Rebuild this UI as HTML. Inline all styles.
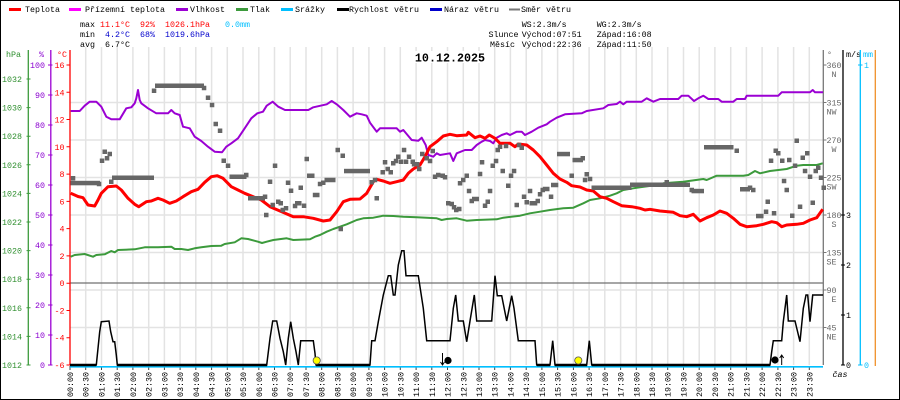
<!DOCTYPE html>
<html><head><meta charset="utf-8">
<style>
html,body{margin:0;padding:0;background:#fff;}
svg{display:block;}
text{font-family:"Liberation Mono",monospace;font-size:8.33px;}
</style></head><body>
<svg width="900" height="400" viewBox="0 0 900 400" xmlns="http://www.w3.org/2000/svg">
<rect x="0.5" y="0.5" width="899" height="399" fill="#fff" stroke="#000" stroke-width="1"/>

<!-- legend -->
<g>
<rect x="9" y="8" width="12" height="3" fill="#ff0000"/><text x="25" y="12">Teplota</text>
<rect x="69" y="8" width="12" height="3" fill="#ff00ff"/><text x="85" y="12">Přízemní teplota</text>
<rect x="176" y="8" width="12" height="3" fill="#9b00d3"/><text x="190" y="12">Vlhkost</text>
<rect x="236" y="8" width="12" height="3" fill="#3c9a3c"/><text x="250" y="12">Tlak</text>
<rect x="281" y="8" width="12" height="3" fill="#00bfff"/><text x="295" y="12">Srážky</text>
<rect x="337" y="8" width="12" height="3" fill="#000"/><text x="349" y="12">Rychlost větru</text>
<rect x="430" y="8" width="12" height="3" fill="#0000cc"/><text x="444" y="12">Náraz větru</text>
<rect x="509" y="8.5" width="11" height="2" fill="#777"/><text x="521" y="12">Směr větru</text>
</g>

<!-- stats -->
<g>
<text x="80" y="27">max</text><text x="100" y="27" fill="#ff0000">11.1°C</text><text x="140" y="27" fill="#ff0000">92%</text><text x="165" y="27" fill="#ff0000">1026.1hPa</text><text x="225" y="27" fill="#00bfff">0.0mm</text>
<text x="80" y="37">min</text><text x="105" y="37" fill="#0000cc">4.2°C</text><text x="140" y="37" fill="#0000cc">68%</text><text x="165" y="37" fill="#0000cc">1019.6hPa</text>
<text x="80" y="47">avg</text><text x="105" y="47">6.7°C</text>
<text x="521.7" y="27">WS:2.3m/s</text><text x="596.7" y="27">WG:2.3m/s</text>
<text x="488.5" y="37">Slunce</text><text x="521.7" y="37">Východ:07:51</text><text x="596.7" y="37">Západ:16:08</text>
<text x="490" y="47">Měsíc</text><text x="521.7" y="47">Východ:22:36</text><text x="596.7" y="47">Západ:11:50</text>
</g>

<!-- grid -->
<path d="M85.7 47V365M101.5 47V365M117.2 47V365M132.9 47V365M148.7 47V365M164.4 47V365M180.1 47V365M195.8 47V365M211.6 47V365M227.3 47V365M243 47V365M258.8 47V365M274.5 47V365M290.2 47V365M306 47V365M321.7 47V365M337.4 47V365M353.1 47V365M368.9 47V365M384.6 47V365M400.3 47V365M416.1 47V365M431.8 47V365M447.5 47V365M463.3 47V365M479 47V365M494.7 47V365M510.4 47V365M526.2 47V365M541.9 47V365M557.6 47V365M573.4 47V365M589.1 47V365M604.8 47V365M620.6 47V365M636.3 47V365M652 47V365M667.7 47V365M683.5 47V365M699.2 47V365M714.9 47V365M730.7 47V365M746.4 47V365M762.1 47V365M777.9 47V365M793.6 47V365M809.3 47V365" stroke="#e3e3e3" stroke-width="1.5" fill="none"/>
<path d="M70 102.5H823M70 140H823M70 177.5H823M70 215H823M70 252.5H823M70 290H823M70 327.5H823" stroke="#e3e3e3" stroke-width="1.5" fill="none"/>
<line x1="70" y1="283" x2="823" y2="283" stroke="#707070" stroke-width="1.3"/>

<rect x="413" y="51" width="74" height="12" fill="#fff"/>
<text x="450" y="61.5" text-anchor="middle" font-weight="bold" style="font-size:11.7px">10.12.2025</text>

<!-- bottom ticks -->
<path d="M70 366V370M85.7 366V370M101.5 366V370M117.2 366V370M132.9 366V370M148.7 366V370M164.4 366V370M180.1 366V370M195.8 366V370M211.6 366V370M227.3 366V370M243 366V370M258.8 366V370M274.5 366V370M290.2 366V370M306 366V370M321.7 366V370M337.4 366V370M353.1 366V370M368.9 366V370M384.6 366V370M400.3 366V370M416.1 366V370M431.8 366V370M447.5 366V370M463.3 366V370M479 366V370M494.7 366V370M510.4 366V370M526.2 366V370M541.9 366V370M557.6 366V370M573.4 366V370M589.1 366V370M604.8 366V370M620.6 366V370M636.3 366V370M652 366V370M667.7 366V370M683.5 366V370M699.2 366V370M714.9 366V370M730.7 366V370M746.4 366V370M762.1 366V370M777.9 366V370M793.6 366V370M809.3 366V370" stroke="#444" stroke-width="1" fill="none"/>

<!-- left axes -->
<g>
<text x="6" y="57" fill="#2f8f2f">hPa</text>
<text x="39" y="57" fill="#8a00d0">%</text>
<text x="57" y="57" fill="#ff0000">°C</text>
<line x1="28.3" y1="50" x2="28.3" y2="365" stroke="#3c9a3c" stroke-width="1.3"/>
<path d="M26.5 79H30.5M26.5 107.6H30.5M26.5 136.2H30.5M26.5 164.8H30.5M26.5 193.4H30.5M26.5 222H30.5M26.5 250.6H30.5M26.5 279.2H30.5M26.5 307.8H30.5M26.5 336.4H30.5M26.5 365H30.5" stroke="#3c9a3c" stroke-width="1"/>
<g fill="#2f8f2f" text-anchor="end">
<text x="22" y="82">1032</text><text x="22" y="110.6">1030</text><text x="22" y="139.2">1028</text><text x="22" y="167.8">1026</text><text x="22" y="196.4">1024</text><text x="22" y="225">1022</text><text x="22" y="253.6">1020</text><text x="22" y="282.2">1018</text><text x="22" y="310.8">1016</text><text x="22" y="339.4">1014</text><text x="22" y="368">1012</text>
</g>
<line x1="50.8" y1="50" x2="50.8" y2="365" stroke="#9b00d3" stroke-width="1.3"/>
<path d="M48 65H52.5M48 95H52.5M48 125H52.5M48 155H52.5M48 185H52.5M48 215H52.5M48 245H52.5M48 275H52.5M48 305H52.5M48 335H52.5M48 365H52.5" stroke="#9b00d3" stroke-width="1"/>
<g fill="#8a00d0" text-anchor="end">
<text x="45" y="68">100</text><text x="45" y="98">90</text><text x="45" y="128">80</text><text x="45" y="158">70</text><text x="45" y="188">60</text><text x="45" y="218">50</text><text x="45" y="248">40</text><text x="45" y="278">30</text><text x="45" y="308">20</text><text x="45" y="338">10</text><text x="45" y="368">0</text>
</g>
<line x1="70" y1="50" x2="70" y2="365" stroke="#ff0000" stroke-width="1.3"/>
<path d="M66.5 65H70M66.5 92.3H70M66.5 119.5H70M66.5 146.8H70M66.5 174.1H70M66.5 201.4H70M66.5 228.6H70M66.5 255.9H70M66.5 283.2H70M66.5 310.5H70M66.5 337.7H70M66.5 365H70" stroke="#ff0000" stroke-width="1"/>
<g fill="#ff0000" text-anchor="end">
<text x="64.5" y="68">16</text><text x="64.5" y="95.3">14</text><text x="64.5" y="122.5">12</text><text x="64.5" y="149.8">10</text><text x="64.5" y="177.1">8</text><text x="64.5" y="204.4">6</text><text x="64.5" y="231.6">4</text><text x="64.5" y="258.9">2</text><text x="64.5" y="286.2">0</text><text x="64.5" y="313.5">-2</text><text x="64.5" y="340.7">-4</text><text x="64.5" y="368">-6</text>
</g>
</g>

<!-- right axes -->
<g>
<line x1="823.3" y1="50" x2="823.3" y2="365" stroke="#777" stroke-width="1.3"/>
<path d="M823 65H826.5M823 102.5H826.5M823 140H826.5M823 177.5H826.5M823 215H826.5M823 252.5H826.5M823 290H826.5M823 327.5H826.5" stroke="#777" stroke-width="1"/>
<g fill="#666">
<text x="827" y="57">°</text>
<text x="826.5" y="68">360</text><text x="831.5" y="77">N</text>
<text x="826.5" y="105.5">315</text><text x="826.5" y="114.5">NW</text>
<text x="826.5" y="143">270</text><text x="831.5" y="152">W</text>
<text x="826.5" y="180.5">225</text><text x="826.5" y="189.5">SW</text>
<text x="826.5" y="218">180</text><text x="831.5" y="227">S</text>
<text x="826.5" y="255.5">135</text><text x="826.5" y="264.5">SE</text>
<text x="826.5" y="293">90</text><text x="831.5" y="302">E</text>
<text x="826.5" y="330.5">45</text><text x="826.5" y="339.5">NE</text>
</g>
<line x1="843" y1="50" x2="843" y2="365" stroke="#000" stroke-width="1.3"/>
<path d="M841 215H845M841 265H845M841 315H845M841 365H845" stroke="#000" stroke-width="1"/>
<text x="846" y="57">m/s</text>
<text x="846" y="218">3</text><text x="846" y="268">2</text><text x="846" y="318">1</text><text x="846" y="368">0</text>
<line x1="860.3" y1="50" x2="860.3" y2="365" stroke="#00bfff" stroke-width="1.3"/>
<path d="M858 65H862.5M858 365H862.5" stroke="#00bfff" stroke-width="1"/>
<text x="863" y="57" fill="#00bfff">mm</text>
<text x="864" y="68" fill="#00bfff">1</text><text x="864" y="368" fill="#00bfff">0</text>
<line x1="875.3" y1="50" x2="875.3" y2="366" stroke="#f0902a" stroke-width="1.3"/>
<text x="832.5" y="377" font-style="italic">čas</text>
</g>

<!-- pressure -->
<polyline fill="none" stroke="#3c9a3c" stroke-width="2" stroke-linejoin="round" points="70.7,256.7 74.7,255 84.7,254 93,256.7 96.3,255 104.7,254.3 111.3,251 114.7,252.3 118,250 134.7,249.3 144.7,247.3 158,247.3 171.3,246.7 174.7,249 181.3,249 188,250 194.7,248.3 201.3,247.3 211.3,246 221.3,245.7 224.7,244 234.7,242.3 241.3,238.3 248,239 258,241.7 262,243 266.7,241.7 273.3,240 286.7,238.3 293.3,240 310,239.3 315,236.7 320,235 326.7,231.7 333.3,229 340,226.7 346.7,224.3 356.7,220 363.3,218.3 373.3,217.7 383.3,215.7 393.3,216 403.3,216.7 416.7,217.3 426.7,217.7 436.7,218.3 441.7,220 446.7,219 456.7,218.3 466.7,220.7 476.7,220 496.7,219.3 503.3,217.7 520,215.7 530,213.3 540,211.7 550,210 563.3,208.3 573.3,207.7 583.3,203.3 590,200 600,198.3 610,195.7 616.7,193.3 623.3,190 633.3,188.3 640,187.3 656.7,185 663.3,183.3 683.3,181.7 703.3,179 706.7,180 716.7,175.7 743.3,175.7 748.3,175 755,171 760,173.3 770,171 786.7,169 796.7,165.7 803.3,165 816.7,165 822.7,163.3"/>

<!-- humidity -->
<polyline fill="none" stroke="#9b00d3" stroke-width="2" stroke-linejoin="round" points="70.7,111 79.7,111 84.7,105.7 89.7,101.7 96.3,101.7 101.3,106.7 106.3,116.7 111.3,119.3 119.7,119.3 126.3,108.3 131.3,107.3 134.7,103.3 136.3,98.3 138,90 139.7,100 141.3,103.3 148,108.3 156.3,113.3 168,113.3 171.3,110 174.7,113.3 179.7,115 183,126.7 189.7,128.3 194.7,136.7 201.3,141 208,146.7 214.7,151.7 222,152.3 226.3,146.7 231.3,143.3 238,138.3 244.7,128.3 251.3,118.3 257.3,113.3 263,111.7 266.7,105.7 272.7,101.7 278.3,106.7 285,110 308.3,110 313.3,107.3 326.7,104.3 331.7,101 336.7,104.3 343.3,110 350,116.7 356.7,113.3 361.7,114.3 366.7,115.7 370,122.7 376.7,131.7 380,128.3 396.7,128.3 400,131.7 403.3,130 411.7,140 418.3,140.7 421.7,137.7 425.7,145 428.3,155 433.3,156.7 436.7,153.3 440,155 450,153.3 453.3,161 456.7,153.3 465,150 471.7,150 476.7,145 481.7,141.7 485,140 490,141 493.3,143.3 496.7,137.7 501.7,135 506.7,133.3 510,135 516.7,131.7 521.7,131.7 525,135 531.7,131.7 538.3,127.7 546.7,124.3 550,121.7 556.7,117.7 565,114.3 581.7,113.3 586.7,111 603.3,108.3 608.3,105 616.7,104 620,101.7 623.3,104.3 626.7,101.7 641.7,101.7 646.7,98.3 653.3,101.7 660,99 678.3,99 681.7,95.7 688.3,95.7 694,101 698.3,98.3 703.3,95.7 708.3,99 718.3,99 721.7,101.7 733.3,101.7 736.7,99 745,99 746.7,95.7 778.3,95.7 781.7,92.3 810,92.3 812.7,90 815,92.3 823,92.3"/>

<!-- temperature -->
<polyline fill="none" stroke="#ff0000" stroke-width="3" stroke-linejoin="round" points="70.7,193.3 74.7,195 78,196.5 83,197.7 88,205 94.7,206 98,200 101.3,193.3 108,186.7 116.3,186 121.3,190 128,198.3 134.7,204.3 138.7,206.7 146.3,201.7 151.3,201 158,198.3 163,200 169.7,203.3 176.3,201 183,196.7 191.3,191.7 198,189.3 204.7,182.3 211.3,176.7 217.3,175.7 223,178.3 231.3,186.7 238,190 244.7,193.3 253,196.7 261.3,200 270,206.7 280,211 293.3,216.7 303.3,216.7 313.3,218.3 323.3,221 330,220 336.7,211.7 343.3,201.7 350,199.3 360,199 366.7,193.3 373.3,181.7 376.7,179.3 383.3,181 390,183.3 396.7,181.7 403.3,180 408.3,173.3 413.3,169 420,165 425,156.7 430,146.7 436.7,141.7 443.3,136 450,134.3 456.7,135.7 466.7,135 468.3,132.3 475,137.7 480,136 485,138.3 489.3,135 495,138.3 500,143.3 510,143.3 515,146.7 518.3,144 526.7,145 533.3,150 540,156.7 546.7,165 553.3,173.3 560,179 566.7,182.3 571.7,185.7 580,187 586.7,190 593.3,191 600,196.7 606.7,198.3 613.3,201.7 621.7,205.7 631.7,206.7 640,208.3 645,210 650,209.3 660,211 673.3,212.3 680,215.7 686.7,216.7 693.3,214.3 700,221 706.7,217.7 713.3,215 720,211 726.7,213.3 733.3,218.3 740,224.3 746.7,226.7 756.7,225.7 763.3,224.3 771.7,221.7 776.7,222.7 781.7,226.7 786.7,225 796.7,224.3 803.3,223.3 810,220 816.7,217.7 822.7,209.3"/>

<!-- rain -->
<line x1="70" y1="366.8" x2="823" y2="366.8" stroke="#00bfff" stroke-width="1.6"/>

<!-- wind speed -->
<polyline fill="none" stroke="#000" stroke-width="1.5" points="70,365 96.3,365 99.7,331.7 101.3,321.7 109,321 110.7,331.7 113,341.7 114.7,341.7 116.3,355 117.3,365 266.7,365 270,338.3 272.7,321 276.7,321 280,338.3 283.3,351.7 285.7,365 288.3,338.3 290.7,321.7 293.3,338.3 296,351.7 298.3,365 300.7,340.7 313.3,340.7 315,353.3 316,365 370,365 371.7,340.7 375,340.7 378.3,321.7 383.3,295 388.3,275.7 390.7,275.7 393.3,295 395,295 398.3,265 401.7,250.7 404,250.7 406,275.7 418.3,275.7 423.3,308.3 426.7,340.7 450,340.7 453.3,308.3 455.7,295 458.3,321 463.3,321 466.7,341.7 470,321 474.3,295 476.7,321 491.7,321 495,275.7 497.3,295.7 501.7,295.7 506.7,321 511.7,295.7 514,308.3 518.3,340.7 535,340.7 536.7,365 550,365 552.7,340.7 555,365 586.7,365 589.3,340.7 591.7,365 770,365 771.7,351.7 773.3,340.7 781.7,340.7 783.3,321.7 786.7,295 788.3,321 795,321 800,341.7 803.3,308.3 806,295 807.7,295 810,321.7 812.7,295 823,295"/>
<path d="M70 365H96M117 365H267M316 365H370M537 365H550M555 365H587M592 365H770" stroke="#000" stroke-width="2.5"/>

<!-- wind direction -->
<g fill="#666">
<rect x="70.5" y="180.8" width="29.5" height="4.5"/>
<rect x="112" y="175.5" width="42" height="4.5"/>
<rect x="155" y="83.5" width="49" height="4.5"/>
<rect x="229.5" y="174.5" width="17" height="4.5"/>
<rect x="248" y="196" width="17" height="4.5"/>
<rect x="344" y="168.8" width="26" height="4.5"/>
<rect x="557" y="151.8" width="13" height="4.5"/>
<rect x="572.5" y="157.8" width="10.5" height="4.5"/>
<rect x="591.5" y="185.5" width="40" height="4.5"/>
<rect x="630" y="182.5" width="60" height="4.5"/>
<rect x="691.5" y="188.8" width="12.5" height="4.5"/>
<rect x="704" y="145" width="29.5" height="4.5"/>
<rect x="740" y="187" width="10" height="4.5"/>
<rect x="756" y="213.8" width="7.5" height="4.5"/>
<path d="M70.8 176h4.5v4.5h-4.5zM96.8 181.8h4.5v4.5h-4.5zM99.8 158.5h4.5v4.5h-4.5zM102.5 149.5h4.5v4.5h-4.5zM104.8 156h4.5v4.5h-4.5zM107.5 151.8h4.5v4.5h-4.5zM109 179.5h4.5v4.5h-4.5zM151.8 88.5h4.5v4.5h-4.5zM201.8 85.8h4.5v4.5h-4.5zM205.8 95.5h4.5v4.5h-4.5zM209.8 102.8h4.5v4.5h-4.5zM213.5 121.8h4.5v4.5h-4.5zM217.8 128.5h4.5v4.5h-4.5zM221.5 158.5h4.5v4.5h-4.5zM225.8 163.5h4.5v4.5h-4.5zM244 172.8h4.5v4.5h-4.5zM264 212.8h4.5v4.5h-4.5zM262.8 194.5h4.5v4.5h-4.5zM267.8 179.5h4.5v4.5h-4.5zM270.5 202.8h4.5v4.5h-4.5zM272.8 163.5h4.5v4.5h-4.5zM276 199.5h4.5v4.5h-4.5zM278.5 201h4.5v4.5h-4.5zM280.5 207.8h4.5v4.5h-4.5zM283.8 206h4.5v4.5h-4.5zM285.8 180.5h4.5v4.5h-4.5zM288.8 188.5h4.5v4.5h-4.5zM292.8 203.8h4.5v4.5h-4.5zM295 201h4.5v4.5h-4.5zM297 201h4.5v4.5h-4.5zM298.5 185.5h4.5v4.5h-4.5zM301.8 203.5h4.5v4.5h-4.5zM304.5 156.8h4.5v4.5h-4.5zM307 173.5h4.5v4.5h-4.5zM310 173.5h4.5v4.5h-4.5zM312.8 192.8h4.5v4.5h-4.5zM315 192.8h4.5v4.5h-4.5zM317.8 181.8h4.5v4.5h-4.5zM321 180.5h4.5v4.5h-4.5zM324.5 177.8h4.5v4.5h-4.5zM327.8 177.8h4.5v4.5h-4.5zM331 177.8h4.5v4.5h-4.5zM335.5 147.8h4.5v4.5h-4.5zM340.5 153.5h4.5v4.5h-4.5zM338.5 226.8h4.5v4.5h-4.5zM369.5 180h4.5v4.5h-4.5zM374.5 196h4.5v4.5h-4.5zM372.8 177.8h4.5v4.5h-4.5zM380.5 170h4.5v4.5h-4.5zM382.8 160h4.5v4.5h-4.5zM385.5 166.8h4.5v4.5h-4.5zM388.5 170h4.5v4.5h-4.5zM391 161h4.5v4.5h-4.5zM393.8 158.8h4.5v4.5h-4.5zM396 154.5h4.5v4.5h-4.5zM398.8 159.5h4.5v4.5h-4.5zM401.8 147.8h4.5v4.5h-4.5zM403.8 159.5h4.5v4.5h-4.5zM406.8 154.5h4.5v4.5h-4.5zM410.5 159.5h4.5v4.5h-4.5zM411.8 162h4.5v4.5h-4.5zM415 162h4.5v4.5h-4.5zM417 166.8h4.5v4.5h-4.5zM420 151.8h4.5v4.5h-4.5zM424.5 156h4.5v4.5h-4.5zM427.8 158.8h4.5v4.5h-4.5zM430.5 148.8h4.5v4.5h-4.5zM432.8 174.5h4.5v4.5h-4.5zM436 172.8h4.5v4.5h-4.5zM440.5 173.5h4.5v4.5h-4.5zM442.8 175h4.5v4.5h-4.5zM446 201h4.5v4.5h-4.5zM449.5 201.8h4.5v4.5h-4.5zM451.8 205h4.5v4.5h-4.5zM454 207.8h4.5v4.5h-4.5zM457 206.8h4.5v4.5h-4.5zM457.8 181h4.5v4.5h-4.5zM461 177.8h4.5v4.5h-4.5zM464.5 173.5h4.5v4.5h-4.5zM466.8 188.8h4.5v4.5h-4.5zM469.5 198.8h4.5v4.5h-4.5zM472 196.8h4.5v4.5h-4.5zM474.5 196.8h4.5v4.5h-4.5zM477.8 171.8h4.5v4.5h-4.5zM479.8 160h4.5v4.5h-4.5zM482.8 203.5h4.5v4.5h-4.5zM485.5 199.5h4.5v4.5h-4.5zM487.8 188.8h4.5v4.5h-4.5zM490.5 163.5h4.5v4.5h-4.5zM493.8 158.8h4.5v4.5h-4.5zM495.5 147.8h4.5v4.5h-4.5zM497.8 144.5h4.5v4.5h-4.5zM500.5 168.8h4.5v4.5h-4.5zM503.8 143.8h4.5v4.5h-4.5zM506 183.5h4.5v4.5h-4.5zM508.8 173.5h4.5v4.5h-4.5zM511.8 168.8h4.5v4.5h-4.5zM514.5 202.8h4.5v4.5h-4.5zM516.8 142.8h4.5v4.5h-4.5zM519.5 145.5h4.5v4.5h-4.5zM521.8 194.5h4.5v4.5h-4.5zM524.5 200h4.5v4.5h-4.5zM527.8 188.8h4.5v4.5h-4.5zM529.5 201h4.5v4.5h-4.5zM532.8 201h4.5v4.5h-4.5zM535.5 198.8h4.5v4.5h-4.5zM537.8 192h4.5v4.5h-4.5zM540.5 187.8h4.5v4.5h-4.5zM542.8 186.8h4.5v4.5h-4.5zM545 186.8h4.5v4.5h-4.5zM548.8 194.5h4.5v4.5h-4.5zM551 182.8h4.5v4.5h-4.5zM553.8 182.8h4.5v4.5h-4.5zM569.5 173.5h4.5v4.5h-4.5zM580.5 156h4.5v4.5h-4.5zM582.8 177.8h4.5v4.5h-4.5zM584.5 172h4.5v4.5h-4.5zM587.8 176.8h4.5v4.5h-4.5zM664.5 180h4.5v4.5h-4.5zM689.5 187.8h4.5v4.5h-4.5zM734.5 148.5h4.5v4.5h-4.5zM747.8 185.5h4.5v4.5h-4.5zM751 187.8h4.5v4.5h-4.5zM763.8 209.5h4.5v4.5h-4.5zM765.5 199.5h4.5v4.5h-4.5zM768.8 158.5h4.5v4.5h-4.5zM771.8 211h4.5v4.5h-4.5zM773.5 148.5h4.5v4.5h-4.5zM776 151h4.5v4.5h-4.5zM780 158.5h4.5v4.5h-4.5zM781.8 178.8h4.5v4.5h-4.5zM784.5 187.8h4.5v4.5h-4.5zM787 157.8h4.5v4.5h-4.5zM790 213.5h4.5v4.5h-4.5zM792.8 163.5h4.5v4.5h-4.5zM794.5 138.5h4.5v4.5h-4.5zM797.8 204.5h4.5v4.5h-4.5zM800.5 155.5h4.5v4.5h-4.5zM802.8 168.8h4.5v4.5h-4.5zM805 151h4.5v4.5h-4.5zM807.8 174.5h4.5v4.5h-4.5zM810.5 200.5h4.5v4.5h-4.5zM813.5 168.8h4.5v4.5h-4.5zM816 165.5h4.5v4.5h-4.5zM818.8 175.5h4.5v4.5h-4.5zM821.5 185.5h4.5v4.5h-4.5z"/>
</g>

<!-- sun / moon markers -->
<circle cx="316.7" cy="360.5" r="3.6" fill="#ffff00" stroke="#555" stroke-width="0.8"/>
<circle cx="578.3" cy="360.5" r="3.6" fill="#ffff00" stroke="#555" stroke-width="0.8"/>
<circle cx="448" cy="360.5" r="3.6" fill="#000"/>
<circle cx="775" cy="360" r="3.6" fill="#000"/>
<path d="M442.5 353V364.5M440.5 362L442.5 365L444.5 362" stroke="#000" stroke-width="1" fill="none"/>
<path d="M781.7 365V355M779.7 358L781.7 355L783.7 358" stroke="#000" stroke-width="1" fill="none"/>

<!-- time labels -->
<g text-anchor="end">
<text transform="translate(73,372) rotate(-90)">00:00</text>
<text transform="translate(88.7,372) rotate(-90)">00:30</text>
<text transform="translate(104.5,372) rotate(-90)">01:00</text>
<text transform="translate(120.2,372) rotate(-90)">01:30</text>
<text transform="translate(135.9,372) rotate(-90)">02:00</text>
<text transform="translate(151.7,372) rotate(-90)">02:30</text>
<text transform="translate(167.4,372) rotate(-90)">03:00</text>
<text transform="translate(183.1,372) rotate(-90)">03:30</text>
<text transform="translate(198.8,372) rotate(-90)">04:00</text>
<text transform="translate(214.6,372) rotate(-90)">04:30</text>
<text transform="translate(230.3,372) rotate(-90)">05:00</text>
<text transform="translate(246,372) rotate(-90)">05:30</text>
<text transform="translate(261.8,372) rotate(-90)">06:00</text>
<text transform="translate(277.5,372) rotate(-90)">06:30</text>
<text transform="translate(293.2,372) rotate(-90)">07:00</text>
<text transform="translate(309,372) rotate(-90)">07:30</text>
<text transform="translate(324.7,372) rotate(-90)">08:00</text>
<text transform="translate(340.4,372) rotate(-90)">08:30</text>
<text transform="translate(356.1,372) rotate(-90)">09:00</text>
<text transform="translate(371.9,372) rotate(-90)">09:30</text>
<text transform="translate(387.6,372) rotate(-90)">10:00</text>
<text transform="translate(403.3,372) rotate(-90)">10:30</text>
<text transform="translate(419.1,372) rotate(-90)">11:00</text>
<text transform="translate(434.8,372) rotate(-90)">11:30</text>
<text transform="translate(450.5,372) rotate(-90)">12:00</text>
<text transform="translate(466.3,372) rotate(-90)">12:30</text>
<text transform="translate(482,372) rotate(-90)">13:00</text>
<text transform="translate(497.7,372) rotate(-90)">13:30</text>
<text transform="translate(513.4,372) rotate(-90)">14:00</text>
<text transform="translate(529.2,372) rotate(-90)">14:30</text>
<text transform="translate(544.9,372) rotate(-90)">15:00</text>
<text transform="translate(560.6,372) rotate(-90)">15:30</text>
<text transform="translate(576.4,372) rotate(-90)">16:00</text>
<text transform="translate(592.1,372) rotate(-90)">16:30</text>
<text transform="translate(607.8,372) rotate(-90)">17:00</text>
<text transform="translate(623.6,372) rotate(-90)">17:30</text>
<text transform="translate(639.3,372) rotate(-90)">18:00</text>
<text transform="translate(655,372) rotate(-90)">18:30</text>
<text transform="translate(670.7,372) rotate(-90)">19:00</text>
<text transform="translate(686.5,372) rotate(-90)">19:30</text>
<text transform="translate(702.2,372) rotate(-90)">20:00</text>
<text transform="translate(717.9,372) rotate(-90)">20:30</text>
<text transform="translate(733.7,372) rotate(-90)">21:00</text>
<text transform="translate(749.4,372) rotate(-90)">21:30</text>
<text transform="translate(765.1,372) rotate(-90)">22:00</text>
<text transform="translate(780.9,372) rotate(-90)">22:30</text>
<text transform="translate(796.6,372) rotate(-90)">23:00</text>
<text transform="translate(812.3,372) rotate(-90)">23:30</text>
</g>
</svg>
</body></html>
